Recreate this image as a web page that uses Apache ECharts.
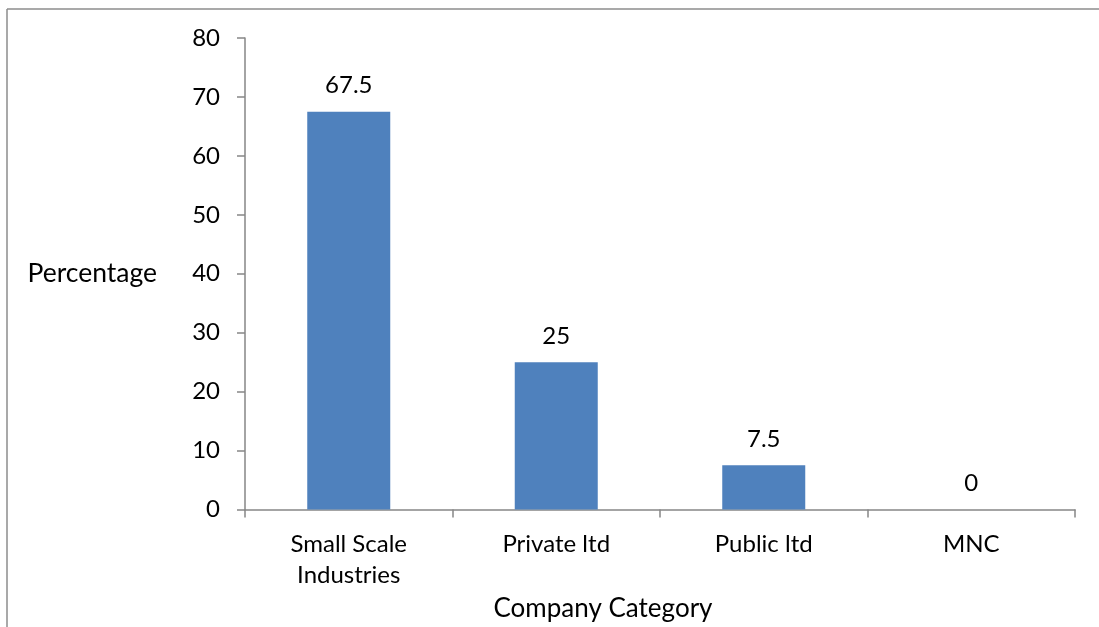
<!DOCTYPE html>
<html>
<head>
<meta charset="utf-8">
<script src="https://cdn.jsdelivr.net/npm/echarts@6/dist/echarts.min.js"></script>
<style>
  html, body { margin: 0; padding: 0; background: #ffffff; }
  #chart { width: 1099px; height: 627px; }
</style>
</head>
<body>
<div id="chart"></div>
<script>
// Share of respondents by company category
const categories = ['Small Scale\nIndustries', 'Private ltd', 'Public ltd', 'MNC'];
const percentages = [67.5, 25, 7.5, 0];
const yTicks = { min: 0, max: 80, interval: 10 };

const FONT = 'Lato, "Open Sans", "Liberation Sans", sans-serif';
const AXIS_GREY = '#868686';

const chart = echarts.init(document.getElementById('chart'), null, { renderer: 'canvas' });

chart.setOption({
  backgroundColor: '#ffffff',
  animation: false,
  grid: { left: 245, right: 24, top: 38, bottom: 117.5, containLabel: false },
  graphic: [
    // outer frame: top and left edges
    { type: 'line', shape: { x1: 7, y1: 9, x2: 1099, y2: 9 },
      style: { stroke: '#8c8c8c', lineWidth: 1.5 } },
    { type: 'line', shape: { x1: 7, y1: 9, x2: 7, y2: 627 },
      style: { stroke: '#8c8c8c', lineWidth: 1.5 } }
  ],
  xAxis: {
    type: 'category',
    data: categories,
    name: 'Company Category',
    nameLocation: 'middle',
    nameGap: 86,
    nameTextStyle: { fontFamily: FONT, fontSize: 26, color: '#000', padding: [0, 114, 0, 0] },
    axisLine: { lineStyle: { color: AXIS_GREY, width: 1.5 } },
    axisTick: { show: true, alignWithLabel: false, length: 8, lineStyle: { color: AXIS_GREY, width: 1.5 } },
    axisLabel: { fontFamily: FONT, fontSize: 24, color: '#000', margin: 19, lineHeight: 31, interval: 0 },
    splitLine: { show: false }
  },
  yAxis: {
    type: 'value',
    min: yTicks.min,
    max: yTicks.max,
    interval: yTicks.interval,
    name: 'Percentage',
    nameLocation: 'middle',
    nameRotate: 0,
    nameGap: 88,
    nameTextStyle: { fontFamily: FONT, fontSize: 26.5, color: '#000', padding: [8, 0, 0, 0] },
    axisLine: { show: true, lineStyle: { color: AXIS_GREY, width: 1.5 } },
    axisTick: { show: true, length: 8, lineStyle: { color: AXIS_GREY, width: 1.5 } },
    axisLabel: { fontFamily: FONT, fontSize: 24, color: '#000', margin: 25 },
    splitLine: { show: false }
  },
  series: [{
    type: 'bar',
    data: percentages,
    barWidth: '40%',
    itemStyle: { color: '#4F81BD' },
    label: {
      show: true,
      position: 'top',
      distance: 14,
      fontFamily: FONT,
      fontSize: 24,
      color: '#000'
    }
  }]
});
</script>
</body>
</html>
